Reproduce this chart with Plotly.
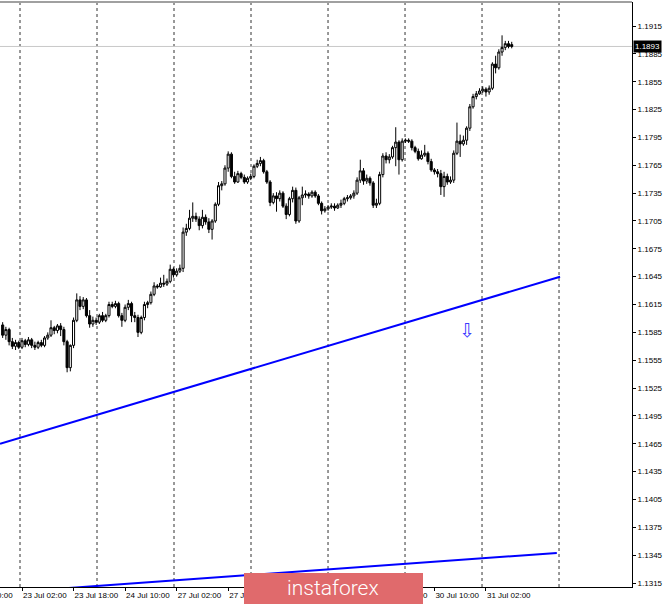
import plotly.graph_objects as go

# ---------------- data (EURUSD H1) ----------------
opens = [1.1593,1.1582,1.1588,1.1575,1.1570,1.1574,1.1569,1.1576,1.1572,1.1577,
         1.1571,1.1569,1.1574,1.1571,1.1579,1.1582,1.1590,1.1587,1.1592,1.1588,
         1.1575,1.1547,1.1571,1.1598,1.1620,1.1613,1.1620,1.1603,1.1594,1.1598,
         1.1596,1.1603,1.1598,1.1603,1.1615,1.1613,1.1616,1.1603,1.1598,1.1612,
         1.1616,1.1603,1.1601,1.1585,1.1601,1.1615,1.1617,1.1626,1.1635,1.1634,
         1.1638,1.1637,1.1640,1.1653,1.1647,1.1651,1.1654,1.1693,1.1697,1.1708,
         1.1710,1.1707,1.1700,1.1709,1.1704,1.1696,1.1705,1.1723,1.1743,1.1745,
         1.1762,1.1777,1.1753,1.1747,1.1756,1.1752,1.1747,1.1751,1.1753,1.1764,
         1.1767,1.1770,1.1758,1.1747,1.1725,1.1732,1.1729,1.1735,1.1721,1.1712,
         1.1729,1.1738,1.1705,1.1730,1.1733,1.1734,1.1732,1.1736,1.1732,1.1724,
         1.1716,1.1718,1.1720,1.1721,1.1719,1.1722,1.1724,1.1729,1.1730,1.1732,
         1.1735,1.1749,1.1759,1.1748,1.1751,1.1746,1.1722,1.1724,1.1755,1.1775,
         1.1771,1.1774,1.1784,1.1790,1.1771,1.1791,1.1792,1.1791,1.1784,1.1780,
         1.1772,1.1776,1.1778,1.1769,1.1760,1.1758,1.1756,1.1742,1.1753,1.1747,
         1.1749,1.1778,1.1791,1.1788,1.1792,1.1805,1.1828,1.1839,1.1842,1.1845,
         1.1847,1.1844,1.1848,1.1874,1.1870,1.1887,1.1892,1.1896,1.1895]
highs = [1.1596,1.1591,1.1590,1.1579,1.1577,1.1576,1.1579,1.1578,1.1580,1.1579,
         1.1575,1.1576,1.1577,1.1581,1.1585,1.1598,1.1592,1.1594,1.1595,1.1591,
         1.1577,1.1572,1.1601,1.1627,1.1624,1.1623,1.1622,1.1609,1.1602,1.1601,
         1.1605,1.1607,1.1605,1.1618,1.1618,1.1619,1.1618,1.1606,1.1615,1.1620,
         1.1618,1.1607,1.1604,1.1603,1.1618,1.1619,1.1629,1.1639,1.1637,1.1644,
         1.1647,1.1643,1.1658,1.1655,1.1654,1.1658,1.1698,1.1702,1.1717,1.1725,
         1.1714,1.1710,1.1717,1.1712,1.1708,1.1707,1.1725,1.1747,1.1748,1.1765,
         1.1780,1.1779,1.1758,1.1759,1.1758,1.1755,1.1753,1.1756,1.1766,1.1771,
         1.1774,1.1772,1.1760,1.1749,1.1735,1.1736,1.1738,1.1737,1.1724,1.1731,
         1.1742,1.1741,1.1732,1.1742,1.1738,1.1736,1.1738,1.1738,1.1734,1.1726,
         1.1721,1.1722,1.1724,1.1724,1.1724,1.1728,1.1731,1.1733,1.1734,1.1738,
         1.1752,1.1771,1.1762,1.1755,1.1753,1.1748,1.1729,1.1758,1.1778,1.1779,
         1.1777,1.1786,1.1806,1.1792,1.1794,1.1794,1.1794,1.1793,1.1786,1.1783,
         1.1781,1.1787,1.1780,1.1772,1.1762,1.1761,1.1760,1.1758,1.1756,1.1753,
         1.1781,1.1811,1.1798,1.1797,1.1807,1.1831,1.1842,1.1845,1.1848,1.1850,
         1.1849,1.1851,1.1876,1.1883,1.1890,1.1905,1.1899,1.1899,1.1898]
lows = [1.1579,1.1577,1.1571,1.1567,1.1566,1.1567,1.1567,1.1569,1.1570,1.1568,
        1.1566,1.1567,1.1569,1.1569,1.1577,1.1580,1.1583,1.1584,1.1581,1.1571,
        1.1542,1.1543,1.1568,1.1596,1.1609,1.1610,1.1601,1.1590,1.1591,1.1593,
        1.1594,1.1596,1.1596,1.1601,1.1611,1.1611,1.1601,1.1591,1.1596,1.1609,
        1.1596,1.1596,1.1580,1.1583,1.1598,1.1611,1.1615,1.1624,1.1632,1.1633,
        1.1634,1.1635,1.1638,1.1644,1.1645,1.1649,1.1650,1.1689,1.1695,1.1704,
        1.1704,1.1695,1.1697,1.1701,1.1692,1.1685,1.1703,1.1721,1.1738,1.1743,
        1.1758,1.1751,1.1745,1.1746,1.1750,1.1745,1.1745,1.1749,1.1751,1.1762,
        1.1764,1.1756,1.1745,1.1721,1.1723,1.1715,1.1726,1.1719,1.1707,1.1710,
        1.1725,1.1702,1.1703,1.1722,1.1730,1.1729,1.1730,1.1730,1.1722,1.1712,
        1.1714,1.1716,1.1718,1.1716,1.1718,1.1719,1.1722,1.1726,1.1728,1.1729,
        1.1733,1.1746,1.1744,1.1745,1.1743,1.1719,1.1719,1.1722,1.1752,1.1767,
        1.1767,1.1772,1.1764,1.1755,1.1769,1.1789,1.1789,1.1781,1.1778,1.1770,
        1.1771,1.1774,1.1766,1.1758,1.1755,1.1752,1.1733,1.1731,1.1744,1.1745,
        1.1746,1.1776,1.1774,1.1786,1.1787,1.1802,1.1826,1.1836,1.1841,1.1843,
        1.1839,1.1841,1.1846,1.1864,1.1868,1.1883,1.1889,1.1891,1.1891]
closes = [1.1582,1.1588,1.1575,1.1570,1.1574,1.1569,1.1576,1.1572,1.1577,1.1571,
          1.1569,1.1574,1.1571,1.1579,1.1582,1.1590,1.1587,1.1592,1.1588,1.1575,
          1.1547,1.1571,1.1598,1.1620,1.1613,1.1620,1.1603,1.1594,1.1598,1.1596,
          1.1603,1.1598,1.1603,1.1615,1.1613,1.1616,1.1603,1.1598,1.1612,1.1616,
          1.1603,1.1601,1.1585,1.1601,1.1615,1.1617,1.1626,1.1635,1.1634,1.1638,
          1.1637,1.1640,1.1653,1.1647,1.1651,1.1654,1.1693,1.1697,1.1708,1.1710,
          1.1707,1.1700,1.1709,1.1704,1.1696,1.1705,1.1723,1.1743,1.1745,1.1762,
          1.1777,1.1753,1.1747,1.1756,1.1752,1.1747,1.1751,1.1753,1.1764,1.1767,
          1.1770,1.1758,1.1747,1.1725,1.1732,1.1729,1.1735,1.1721,1.1712,1.1729,
          1.1738,1.1705,1.1730,1.1733,1.1734,1.1732,1.1736,1.1732,1.1724,1.1716,
          1.1718,1.1720,1.1721,1.1719,1.1722,1.1724,1.1729,1.1730,1.1732,1.1735,
          1.1749,1.1759,1.1748,1.1751,1.1746,1.1722,1.1724,1.1755,1.1775,1.1771,
          1.1774,1.1784,1.1790,1.1771,1.1791,1.1792,1.1791,1.1784,1.1780,1.1772,
          1.1776,1.1778,1.1769,1.1760,1.1758,1.1756,1.1742,1.1753,1.1747,1.1749,
          1.1778,1.1791,1.1788,1.1792,1.1805,1.1828,1.1839,1.1842,1.1845,1.1847,
          1.1844,1.1848,1.1874,1.1870,1.1887,1.1892,1.1896,1.1893,1.1893]
bar_index = list(range(len(closes)))

# time axis labels (bar index -> label), one every 16 H1 bars
tick_bars = [6, 22, 38, 54, 70, 86, 102, 118, 134, 150]
tick_labels = ["23 Jul 02:00", "23 Jul 18:00", "24 Jul 10:00", "27 Jul 02:00",
               "27 Jul 18:00", "28 Jul 10:00", "29 Jul 02:00", "29 Jul 18:00",
               "30 Jul 10:00", "31 Jul 02:00"]
first_label = "22 Jul 10:00"

price_ticks = [1.1315, 1.1345, 1.1375, 1.1405, 1.1435, 1.1465, 1.1495, 1.1525,
               1.1555, 1.1585, 1.1615, 1.1645, 1.1675, 1.1705, 1.1735, 1.1765,
               1.1795, 1.1825, 1.1855, 1.1885, 1.1915]
price_tick_text = ["%.4f" % v for v in price_ticks]

# trend lines (bar index, price)
upper_line_x = [-0.83, 173.0]
upper_line_y = [1.1465, 1.1645]
lower_line_x = [-0.83, 172.0]
lower_line_y = [1.13043, 1.13474]

current_price = 1.1893
arrow_bar = 144.1
arrow_price = 1.1588

grid_bars = [5.38, 29.28, 53.18, 77.08, 100.98, 124.88, 148.78, 172.68]

x_range = [-0.829, 195.33]
y_range = [1.13107, 1.19409]

# ---------------- figure ----------------
fig = go.Figure()

fig.add_trace(go.Candlestick(
    x=bar_index, open=opens, high=highs, low=lows, close=closes,
    increasing=dict(fillcolor="#ffffff", line=dict(color="#000000", width=1)),
    decreasing=dict(fillcolor="#000000", line=dict(color="#000000", width=1)),
    whiskerwidth=0, hoverinfo="skip", showlegend=False,
))

fig.add_trace(go.Scatter(x=upper_line_x, y=upper_line_y, mode="lines",
                         line=dict(color="#0000ff", width=2),
                         hoverinfo="skip", showlegend=False))
fig.add_trace(go.Scatter(x=lower_line_x, y=lower_line_y, mode="lines",
                         line=dict(color="#0000ff", width=2),
                         hoverinfo="skip", showlegend=False))

shapes = []
for gb in grid_bars:
    shapes.append(dict(type="line", xref="x", yref="paper", x0=gb, x1=gb, y0=0, y1=1,
                       line=dict(color="#333333", width=1, dash="3px,3px"), layer="below"))
# current price line
shapes.append(dict(type="line", xref="paper", yref="y", x0=0, x1=1,
                   y0=current_price, y1=current_price,
                   line=dict(color="#c8c8c8", width=1), layer="below"))
# top border
shapes.append(dict(type="line", xref="paper", yref="paper", x0=0, x1=1, y0=1, y1=1,
                   line=dict(color="#a0a0a0", width=2), layer="above"))
# watermark box
shapes.append(dict(type="rect", xref="paper", yref="paper",
                   x0=244 / 632, x1=423 / 632, y0=-0.05, y1=14 / 585,
                   fillcolor="#e06a6c", line=dict(width=0), layer="above"))

annotations = [
    dict(text="instaforex", xref="paper", yref="paper", x=332.5 / 632, y=-1 / 585,
         xanchor="center", yanchor="middle", showarrow=False,
         font=dict(family="Roboto", size=21, color="#ffffff", weight=300)),
    dict(text=str(current_price), xref="paper", yref="y", x=1, y=current_price,
         xanchor="left", yanchor="middle", xshift=1, showarrow=False,
         bgcolor="#000000", borderpad=1,
         font=dict(family="Liberation Sans", size=8, color="#ffffff")),
    dict(text="\u21e9", xref="x", yref="y", x=arrow_bar, y=arrow_price,
         xanchor="center", yanchor="middle", showarrow=False,
         font=dict(family="DejaVu Sans", size=19, color="#3b3bff")),
    dict(text=first_label, xref="paper", yref="paper", x=0, y=0,
         xanchor="right", yanchor="top", xshift=15, yshift=-2, showarrow=False,
         font=dict(family="Liberation Sans", size=8, color="#000000")),
]

fig.update_layout(
    width=665, height=604,
    margin=dict(l=0, r=33, t=2, b=17, pad=0, autoexpand=False),
    paper_bgcolor="#ffffff", plot_bgcolor="#ffffff",
    shapes=shapes, annotations=annotations,
    boxgap=0.08,
    font=dict(family="Liberation Sans", size=8, color="#000000"),
    xaxis=dict(range=x_range, rangeslider=dict(visible=False), showgrid=False,
               zeroline=False, showline=True, linecolor="#000000", linewidth=1,
               tickmode="array", tickvals=tick_bars, ticktext=tick_labels,
               ticks="outside", ticklen=3, tickcolor="#000000", tickangle=0,
               ticklabelposition="outside right", automargin=False,
               tickfont=dict(family="Liberation Sans", size=8, color="#000000")),
    yaxis=dict(range=y_range, side="right", showgrid=False, zeroline=False,
               showline=True, linecolor="#000000", linewidth=1,
               tickmode="array", tickvals=price_ticks, ticktext=price_tick_text,
               ticks="outside", ticklen=3, tickcolor="#000000", automargin=False,
               tickfont=dict(family="Liberation Sans", size=8, color="#000000")),
)

fig.write_html("out.html",
               config={"displayModeBar": False},
               post_script="document.body.style.margin='0px';"
                           "document.body.style.overflow='hidden';")
